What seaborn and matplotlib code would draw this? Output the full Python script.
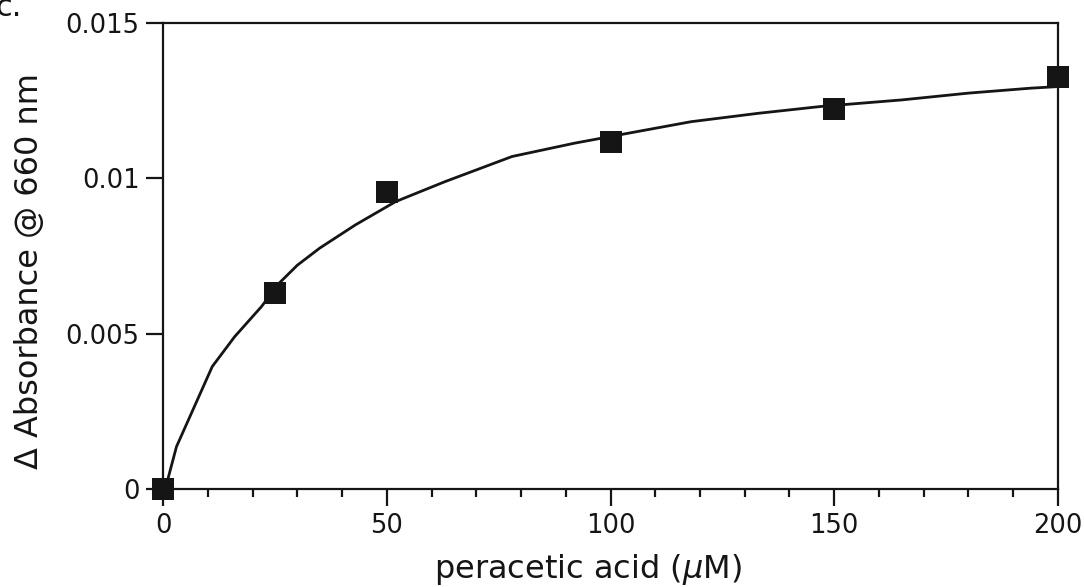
import matplotlib
matplotlib.use("Agg")
import matplotlib.pyplot as plt
import seaborn as sns
import pandas as pd
from matplotlib.ticker import MultipleLocator

# measured data points
conc_uM = [0, 25, 50, 100, 150, 200]
delta_abs = [0.0, 0.00631, 0.00956, 0.01117, 0.01223, 0.01326]

# fitted curve
curve_x = [0.5, 3, 7, 11, 16, 22, 26, 30, 35, 43, 52, 63, 78, 92, 104, 118, 133, 147, 165, 180, 194, 200]
curve_y = [0.0, 0.00136, 0.00265, 0.00394, 0.0049, 0.00587, 0.00663, 0.0072, 0.00775, 0.0085,
           0.00925, 0.00989, 0.0107, 0.01113, 0.01145, 0.01182, 0.01209, 0.01231, 0.01252,
           0.01274, 0.0129, 0.01295]

x_ticks = [0, 50, 100, 150, 200]
y_ticks = [0, 0.005, 0.01, 0.015]
y_tick_labels = ["0", "0.005", "0.01", "0.015"]

sns.set_theme(style="ticks")
plt.rcParams['font.family'] = ['DejaVu Sans']
plt.rcParams['mathtext.fontset'] = 'dejavusans'

pts = pd.DataFrame({"x": conc_uM, "y": delta_abs})
crv = pd.DataFrame({"x": curve_x, "y": curve_y})

ink = "#151515"
fig = plt.figure(figsize=(10.84, 5.87), dpi=100)
ax = fig.add_axes([0.1504, 0.167, 0.8256, 0.794])

sns.lineplot(data=crv, x="x", y="y", ax=ax, color=ink, linewidth=2.0, sort=False)
sns.scatterplot(data=pts, x="x", y="y", ax=ax, marker="s", s=270, color=ink,
                edgecolor=ink, linewidth=0, clip_on=False, zorder=5)

ax.set_xlim(0, 200)
ax.set_ylim(0, 0.015)
ax.set_xticks(x_ticks)
ax.set_xticklabels([str(t) for t in x_ticks])
ax.xaxis.set_minor_locator(MultipleLocator(10))
ax.set_yticks(y_ticks)
ax.set_yticklabels(y_tick_labels)

for s in ax.spines.values():
    s.set_visible(True)
    s.set_linewidth(1.6)
    s.set_color(ink)

ax.tick_params(axis="both", which="major", direction="out", length=12, width=1.6,
               color=ink, labelsize=18.5, labelcolor=ink, pad=5)
ax.tick_params(axis="x", which="minor", direction="out", length=6, width=1.6, color=ink)
ax.tick_params(axis="y", which="minor", left=False)

ax.set_xlabel("peracetic acid ($\\mu$M)", fontsize=23, color=ink)
ax.set_ylabel("Δ Absorbance @ 660 nm", fontsize=23, color=ink)
ax.xaxis.set_label_coords(0.475, -0.135)
ax.yaxis.set_label_coords(-0.132, 0.467)

fig.text(-0.004, 1.012, "c.", fontsize=22, color=ink, ha="left", va="top")

fig.savefig("out.png", dpi=100)
